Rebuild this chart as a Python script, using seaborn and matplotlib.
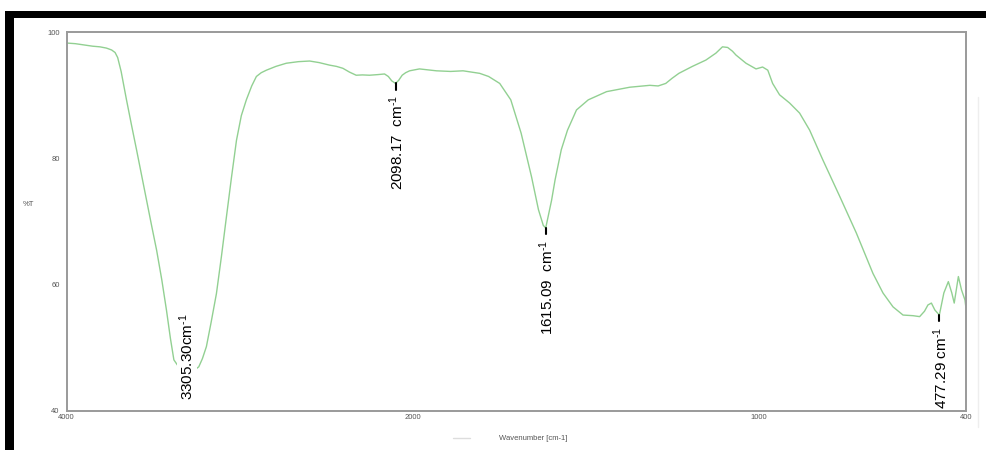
import numpy as np
import pandas as pd
import matplotlib
matplotlib.use("Agg")
import matplotlib.pyplot as plt
from matplotlib.patches import Rectangle
from matplotlib.lines import Line2D
import seaborn as sns

# FTIR spectrum: wavenumber (cm-1) and transmittance (%T)
wavenumber = [
    4000, 3950, 3900, 3850, 3808, 3770, 3740, 3720, 3705, 3685, 3654, 3625,
    3596, 3567, 3538, 3509, 3480, 3450, 3423, 3400, 3380, 3340, 3305, 3270,
    3236, 3215, 3192, 3165, 3134, 3105, 3076, 3047, 3018, 2990, 2961, 2930,
    2903, 2875, 2845, 2790, 2730, 2660, 2595, 2540, 2480, 2440, 2403, 2365,
    2326, 2290, 2249, 2200, 2162, 2140, 2120, 2098, 2080, 2060, 2040, 2017,
    1980, 1931, 1890, 1854, 1806, 1780, 1748, 1716, 1686, 1656, 1636, 1622,
    1615, 1598, 1588, 1570, 1552, 1526, 1492, 1439, 1372, 1314, 1290, 1268,
    1250, 1230, 1191, 1152, 1123, 1104, 1089, 1075, 1065, 1036, 1007, 988,
    973, 959, 939, 910, 881, 852, 814, 765, 717, 669, 640, 611,
    582, 553, 534, 520, 510, 500, 490, 477, 464, 451, 441, 434,
    422, 413, 403, 400,
]
transmittance = [
    98.3, 98.2, 98.0, 97.8, 97.7, 97.5, 97.2, 96.8, 96.0, 93.8, 89.3, 85.3,
    81.4, 77.4, 73.4, 69.4, 65.5, 60.8, 56.0, 51.5, 48.1, 46.5, 46.0, 46.3,
    47.0, 48.3, 50.2, 54.0, 58.6, 64.5, 70.8, 77.0, 82.9, 86.8, 89.3, 91.5,
    93.0, 93.6, 94.0, 94.6, 95.1, 95.35, 95.45, 95.2, 94.8, 94.6, 94.3, 93.7,
    93.2, 93.25, 93.2, 93.3, 93.4, 93.0, 92.3, 91.9, 92.4, 93.2, 93.6, 93.9,
    94.2, 93.9, 93.8, 93.9, 93.5, 93.0, 91.9, 89.3, 84.0, 77.1, 71.9, 69.4,
    69.0, 73.4, 76.6, 81.4, 84.5, 87.7, 89.3, 90.6, 91.3, 91.6, 91.5, 91.9,
    92.7, 93.5, 94.6, 95.6, 96.7, 97.7, 97.6, 97.0, 96.4, 95.1, 94.2, 94.5,
    94.0, 91.9, 90.1, 88.8, 87.2, 84.5, 79.8, 74.0, 68.2, 61.8, 58.7, 56.5,
    55.2, 55.1, 54.95, 55.8, 56.8, 57.1, 56.0, 55.2, 58.7, 60.5, 58.7, 57.1,
    61.3, 59.2, 57.6, 56.3,
]

# Marked absorption bands
peak_positions = [3305.30, 2098.17, 1615.09, 477.29]
peak_transmittance = [46.0, 91.9, 69.0, 55.2]
peak_labels = ["3305.30cm$^{\\text{-}1}$", "2098.17  cm$^{\\text{-}1}$",
               "1615.09  cm$^{\\text{-}1}$", "477.29 cm$^{\\text{-}1}$"]

x_major_ticks = [4000, 2000, 1000, 400]
x_minor_ticks = [3000, 1500, 500]
y_major_ticks = [40, 60, 80, 100]
y_minor_ticks = [50, 70, 90]

sns.set_style("white")
plt.rcParams["font.family"] = ["Liberation Sans", "DejaVu Sans"]
plt.rcParams["mathtext.fontset"] = "custom"
plt.rcParams["mathtext.rm"] = "Liberation Sans"
plt.rcParams["mathtext.it"] = "Liberation Sans"
plt.rcParams["mathtext.bf"] = "Liberation Sans:bold"

df = pd.DataFrame({"Wavenumber": wavenumber, "T": transmittance})

fig = plt.figure(figsize=(9.86, 4.5), dpi=100)
ax = fig.add_axes([0.0676, 0.0867, 0.9121, 0.8415])

sns.lineplot(data=df, x="Wavenumber", y="T", sort=False, estimator=None,
             color="#92d092", linewidth=1.0, ax=ax)


# Spectrometer-style axis: 4000-2000 region drawn at half scale
def fwd(x):
    x = np.asarray(x, dtype=float)
    return np.where(x > 2000, 2000 + (x - 2000) / 2.0, x)


def inv(u):
    u = np.asarray(u, dtype=float)
    return np.where(u > 2000, 2000 + 2.0 * (u - 2000), u)


ax.set_xscale("function", functions=(fwd, inv))
ax.set_xlim(4000, 400)
ax.set_ylim(40, 100)

ax.set_xticks(x_major_ticks)
ax.set_xticklabels([str(t) for t in x_major_ticks])
ax.set_xticks(x_minor_ticks, minor=True)
ax.set_yticks(y_major_ticks)
ax.set_yticklabels([str(t) for t in y_major_ticks])
ax.set_yticks(y_minor_ticks, minor=True)

ax.tick_params(axis="x", which="major", direction="in", length=4, width=1,
               color="#888888", labelsize=5.5, labelcolor="#555555", pad=2)
ax.tick_params(axis="x", which="minor", direction="in", length=2, width=1,
               color="#888888")
ax.tick_params(axis="y", which="major", direction="out", length=4, width=1,
               color="#888888", labelsize=5.5, labelcolor="#555555", pad=1)
ax.tick_params(axis="y", which="minor", direction="out", length=2, width=1,
               color="#888888")

for sp in ax.spines.values():
    sp.set_color("#9a9a9a")
    sp.set_linewidth(1.4)

ax.set_xlabel("")
ax.set_ylabel("")
fig.text(28 / 986, 1 - 205 / 450, "%T", fontsize=5.5, color="#555555",
         ha="center", va="center")
fig.text(533 / 986, 1 - 438 / 450, "Wavenumber [cm-1]", fontsize=5.5,
         color="#555555", ha="center", va="center")
fig.add_artist(Line2D([453 / 986, 470 / 986], [1 - 438 / 450, 1 - 438 / 450],
                      transform=fig.transFigure, color="#dddddd", lw=1))

# Peak markers and rotated labels
label_font = dict(family=["Liberation Sans", "DejaVu Sans"], fontsize=11,
                  color="black")
for w, t, lab in zip(peak_positions, peak_transmittance, peak_labels):
    if lab.startswith("3305"):
        ax.annotate(lab, xy=(w, t), xytext=(0, -27), textcoords="offset pixels",
                    rotation=90, ha="center", va="bottom",
                    bbox=dict(facecolor="white", edgecolor="none", pad=0.5),
                    **label_font)
    else:
        ax.plot([w, w], [t, t - 1.0], color="black", lw=1.5)
        ax.annotate(lab, xy=(w, t), xytext=(1, -12), textcoords="offset pixels",
                    rotation=90, ha="center", va="top", **label_font)

# Screen-capture frame around the chart
fig.add_artist(Rectangle((5 / 986, 1 - 18 / 450), 1.0, 7 / 450,
                         transform=fig.transFigure, color="black", lw=0))
fig.add_artist(Rectangle((5 / 986, 0), 9 / 986, 1 - 11 / 450,
                         transform=fig.transFigure, color="black", lw=0))
fig.add_artist(Line2D([978 / 986, 978 / 986], [1 - 427 / 450, 1 - 97 / 450],
                      transform=fig.transFigure, color="#eeeeee", lw=1))

fig.savefig("out.png", dpi=100)
